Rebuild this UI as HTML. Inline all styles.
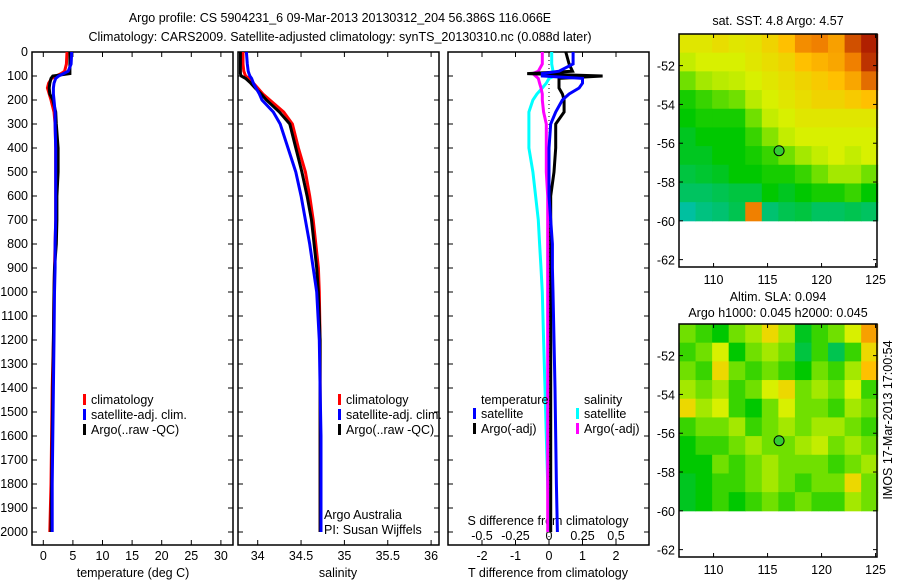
<!DOCTYPE html>
<html><head><meta charset="utf-8"><style>
body{margin:0;background:#fff}
svg{display:block;font-family:"Liberation Sans",sans-serif;font-size:12.5px}
</style></head><body>
<svg id="fig" width="900" height="580" viewBox="0 0 900 580">
<text x="340" y="22" text-anchor="middle">Argo profile: CS 5904231_6 09-Mar-2013 20130312_204 56.386S 116.066E</text>
<text x="340" y="41" text-anchor="middle">Climatology: CARS2009. Satellite-adjusted climatology: synTS_20130310.nc (0.088d later)</text>
<g id="g"></g>
</svg>
<script>
const depths=[0,50,80,90,100,110,130,150,175,200,250,300,400,500,600,700,800,900,1000,1200,1400,1600,1800,2000];
const tArgo=[4.5,4.5,4.5,4.5,1.6,1.3,1.1,1.0,1.1,1.6,2.1,2.2,2.5,2.5,2.3,2.3,2.2,1.9,1.8,1.7,1.6,1.5,1.4,1.3];
const tClim=[4.0,3.9,3.6,3.0,2.2,1.4,0.9,0.7,1.0,1.3,1.8,2.0,2.1,2.1,2.1,2.1,2.0,1.9,1.8,1.7,1.5,1.4,1.3,1.1];
const tSat=[4.8,4.7,4.2,3.4,2.6,2.1,1.8,1.7,1.7,1.8,2.0,2.0,2.1,2.1,2.1,2.1,2.0,2.0,1.9,1.8,1.7,1.6,1.5,1.5];
const sArgo=[33.80,33.80,33.80,33.80,33.81,33.86,33.92,33.97,34.04,34.10,34.25,34.37,34.44,34.51,34.57,34.62,34.65,34.68,34.70,34.72,34.72,34.72,34.72,34.72];
const sClim=[33.83,33.83,33.84,33.85,33.86,33.90,33.95,34.00,34.06,34.14,34.30,34.40,34.47,34.55,34.60,34.64,34.67,34.70,34.71,34.72,34.72,34.72,34.72,34.72];
const sSat=[33.87,33.88,33.89,33.90,33.91,33.93,33.95,33.98,34.02,34.05,34.18,34.26,34.35,34.44,34.50,34.55,34.60,34.64,34.68,34.71,34.72,34.73,34.73,34.73];
const dTSat=[0.72,0.72,0.3,-0.2,-0.2,1.0,1.0,0.9,0.6,0.4,0.2,0.05,0,0,0,0.05,0.1,0.1,0.12,0.15,0.18,0.2,0.22,0.25];
const dTArgo=[0.5,0.6,0.7,-0.65,1.6,0.3,0.3,0.3,0.4,0.45,0.45,0.2,0.2,0.15,0.05,0.05,0.05,0.05,0.05,0.05,0.05,0.05,0.05,0.05];
const dSSat=[0.02,0.02,0.03,0.04,0.04,0,-0.02,-0.05,-0.09,-0.12,-0.15,-0.15,-0.15,-0.12,-0.1,-0.08,-0.07,-0.06,-0.05,-0.04,-0.03,-0.02,-0.01,0];
const dSArgo=[-0.05,-0.05,-0.08,-0.12,-0.1,-0.08,-0.07,-0.06,-0.05,-0.05,-0.04,-0.02,-0.02,-0.02,-0.01,-0.01,-0.01,-0.01,-0.01,-0.01,-0.01,-0.01,-0.01,-0.01];
const depthTicks=[0,100,200,300,400,500,600,700,800,900,1000,1100,1200,1300,1400,1500,1600,1700,1800,1900,2000];
const tTicks=[0,5,10,15,20,25,30];
const sTicks=[34,34.5,35,35.5,36];
const dTTicks=[-2,-1,0,1,2];
const dSTicks=[-0.5,-0.25,0,0.25,0.5];
const sstGrid=[
[.62,.62,.64,.62,.63,.66,.70,.78,.80,.75,.85,.90],
[.58,.60,.60,.60,.62,.64,.66,.70,.72,.74,.80,.88],
[.50,.55,.57,.58,.60,.62,.64,.66,.68,.70,.74,.82],
[.42,.45,.48,.50,.57,.60,.62,.64,.66,.66,.68,.70],
[.40,.42,.42,.42,.50,.58,.60,.62,.62,.62,.62,.62],
[.38,.40,.40,.40,.45,.52,.58,.60,.60,.60,.60,.60],
[.38,.38,.40,.40,.42,.45,.50,.55,.58,.60,.58,.60],
[.36,.37,.38,.40,.40,.42,.42,.45,.50,.55,.55,.50],
[.34,.34,.35,.36,.36,.40,.38,.40,.42,.42,.45,.40],
[.30,.32,.33,.35,.80,.33,.35,.36,.34,.34,.35,.34]];
const slaGrid=[
[.50,.45,.40,.50,.55,.65,.55,.38,.45,.50,.60,.75],
[.45,.50,.60,.40,.50,.55,.50,.36,.45,.35,.45,.65],
[.50,.45,.65,.50,.45,.50,.45,.40,.50,.45,.55,.70],
[.55,.50,.55,.45,.50,.60,.65,.50,.55,.50,.60,.45],
[.65,.55,.60,.45,.40,.50,.60,.50,.50,.45,.55,.50],
[.45,.50,.50,.55,.45,.50,.55,.50,.55,.55,.50,.45],
[.40,.45,.45,.50,.55,.50,.50,.55,.58,.50,.55,.50],
[.40,.40,.50,.45,.50,.55,.50,.50,.50,.45,.50,.55],
[.38,.40,.45,.45,.50,.55,.50,.45,.50,.50,.65,.50],
[.38,.40,.45,.40,.45,.50,.45,.50,.45,.45,.55,.50]];
const lonTicks=[110,115,120,125];
const latTicks=[-52,-54,-56,-58,-60,-62];
const argoPos=[116.066,-56.386];

const NS='http://www.w3.org/2000/svg',G=document.getElementById('g');
function mk(t,a,p){const e=document.createElementNS(NS,t);for(const k in a)e.setAttribute(k,a[k]);(p||G).appendChild(e);return e;}
function txt(x,y,s,anchor){const e=mk('text',{x:x,y:y,'text-anchor':anchor||'middle'});e.textContent=s;return e;}
const Y=d=>52+d*0.24;
const Tx=t=>43.3+t*5.92, Sx=s=>257.7+(s-34)*86.7, DTx=t=>549+t*33.5, DSx=s=>549+s*134;
const panels=[[32,233,'temperature-panel'],[238,439,'salinity-panel'],[448,649,'difference-panel']];
const pTop=52,pBot=545;
panels.forEach(p=>{
 const r=mk('rect',{x:p[0],y:pTop,width:p[1]-p[0],height:pBot-pTop,fill:'none',stroke:'#000','stroke-width':1.5});
 
 
 depthTicks.forEach(d=>{mk('line',{x1:p[0],x2:p[0]+5,y1:Y(d),y2:Y(d),stroke:'#000'});mk('line',{x1:p[1],x2:p[1]-5,y1:Y(d),y2:Y(d),stroke:'#000'});});
});
depthTicks.forEach(d=>{const e=txt(28,Y(d)+4,String(d),'end');
 
 });
function xt(ticks,f,labY,tickTop){ticks.forEach(v=>{const x=f(v);mk('line',{x1:x,x2:x,y1:pBot,y2:pBot-5,stroke:'#000'});if(tickTop)mk('line',{x1:x,x2:x,y1:pTop,y2:pTop+5,stroke:'#000'});
 const e=txt(x,labY,String(v));
 
 });}
xt(tTicks,Tx,560,true);xt(sTicks,Sx,560,true);xt(dTTicks,DTx,560,true);
dSTicks.forEach(v=>{const e=txt(DSx(v),540,String(v));
 
 });
[[133,'temperature (deg C)','x-axis-title-temperature'],[338,'salinity','x-axis-title-salinity'],[548,'T difference from climatology','x-axis-title-t-diff']].forEach(a=>{const e=txt(a[0],577,a[1]);
 
 });
let e=txt(548,525,'S difference from climatology');


mk('line',{x1:DTx(0),x2:DTx(0),y1:pTop,y2:pBot,stroke:'#000','stroke-dasharray':'1,3'});
function series(vals,f,col,name){const pts=vals.map((v,i)=>f(v).toFixed(1)+','+Y(depths[i]).toFixed(1)).join(' ');
 const l=mk('polyline',{points:pts,fill:'none',stroke:col,'stroke-width':3});
 
 }
series(tClim,Tx,'#f00','temp-climatology-line');series(tArgo,Tx,'#000','temp-argo-line');series(tSat,Tx,'#00f','temp-satellite-line');
series(sClim,Sx,'#f00','sal-climatology-line');series(sArgo,Sx,'#000','sal-argo-line');series(sSat,Sx,'#00f','sal-satellite-line');
series(dSSat,DSx,'#0ff','s-diff-satellite-line');series(dSArgo,DSx,'#f0f','s-diff-argo-line');series(dTArgo,DTx,'#000','t-diff-argo-line');series(dTSat,DTx,'#00f','t-diff-satellite-line');
function leg(x,y,col,label){mk('rect',{x:x,y:y-10,width:3,height:11,fill:col});const e=txt(x+8,y,label,'start');
 
 }
[[83],[338]].forEach(a=>{leg(a[0],404,'#f00','climatology');leg(a[0],419,'#00f','satellite-adj. clim.');leg(a[0],434,'#000','Argo(..raw -QC)');});
e=txt(481,404,'temperature','start');
e=txt(584,404,'salinity','start');
leg(473,418,'#00f','satellite');leg(473,433,'#000','Argo(-adj)');leg(576,418,'#0ff','satellite');leg(576,433,'#f0f','Argo(-adj)');
e=txt(324,519,'Argo Australia','start');
e=txt(324,534,'PI: Susan Wijffels','start');

function cmap(v){const stops=[[.3,[0,192,160]],[.4,[0,200,0]],[.5,[112,224,0]],[.6,[216,240,0]],[.7,[255,192,0]],[.8,[240,128,0]],[.9,[176,32,0]]];
 if(v<=stops[0][0])return 'rgb('+stops[0][1]+')';
 for(let i=1;i<stops.length;i++){if(v<=stops[i][0]){const a=stops[i-1],b=stops[i],t=(v-a[0])/(b[0]-a[0]);return 'rgb('+a[1].map((c,k)=>Math.round(c+(b[1][k]-c)*t)).join(',')+')';}}
 return 'rgb('+stops[6][1]+')';}
function drawMap(grid,L,T,W,H,name){const Lx=lon=>L+(lon-106.8)*10.8, Ly=lat=>T+(-50.37-lat)*19.4;
 const rows=grid.length,cols=grid[0].length,cw=(Lx(125.2)-Lx(106.8))/cols,ch=(Ly(-60)-Ly(-50.37))/rows;
 grid.forEach((row,r)=>row.forEach((v,c)=>{const cell=mk('rect',{x:L+c*cw,y:T+r*ch,width:cw+0.5,height:ch+0.5,fill:cmap(v)});
  
  }));
 const f=mk('rect',{x:L,y:T,width:W,height:H,fill:'none',stroke:'#000','stroke-width':1.5});
 
 
 lonTicks.forEach(v=>{const x=Lx(v);mk('line',{x1:x,x2:x,y1:T+H,y2:T+H-4,stroke:'#000'});mk('line',{x1:x,x2:x,y1:T,y2:T+4,stroke:'#000'});
  const t=txt(x,T+H+17,String(v));});
 latTicks.forEach(v=>{const y=Ly(v);mk('line',{x1:L,x2:L+4,y1:y,y2:y,stroke:'#000'});mk('line',{x1:L+W,x2:L+W-4,y1:y,y2:y,stroke:'#000'});
  const t=txt(L-4,y+5,String(v),'end');});
 const c=mk('circle',{cx:Lx(argoPos[0]),cy:Ly(argoPos[1]),r:5,fill:'#3c3',stroke:'#000'});
 
 }
drawMap(sstGrid,679,34,198,233,'sst-map');
drawMap(slaGrid,679,324,198,233,'sla-map');
e=txt(778,25,'sat. SST: 4.8 Argo: 4.57');
e=txt(778,301,'Altim. SLA: 0.094');
e=txt(778,317,'Argo h1000: 0.045 h2000: 0.045');
e=txt(0,0,'IMOS 17-Mar-2013 17:00:54');e.setAttribute('transform','translate(892,420) rotate(-90)');

</script>
</body></html>
